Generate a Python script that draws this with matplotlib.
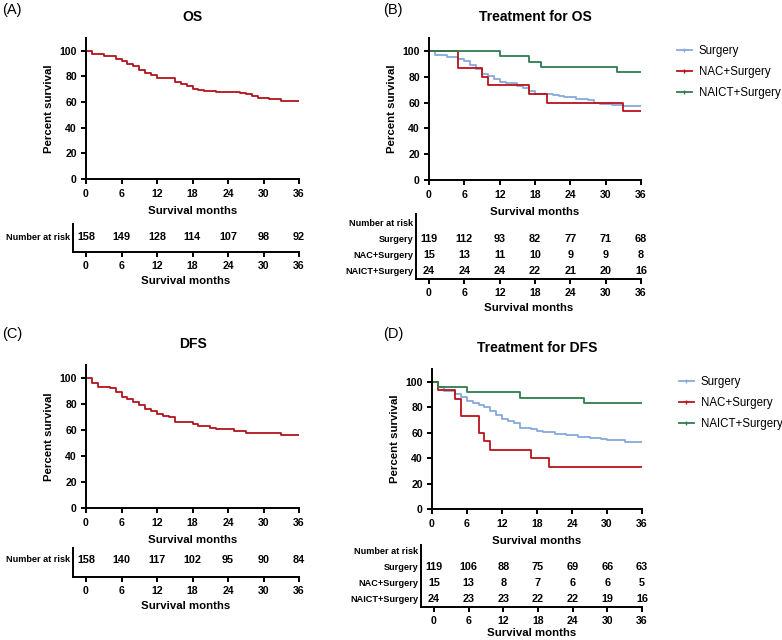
import matplotlib
matplotlib.use("Agg")
import matplotlib.pyplot as plt
from matplotlib.lines import Line2D

plt.rcParams['font.family'] = ['Liberation Sans', 'DejaVu Sans']

# ---- data ----
months = [0, 6, 12, 18, 24, 30, 36]

# (A) OS, all patients
os_t = [0, 1, 3, 5, 6, 7, 8, 9, 10, 11, 12, 15, 16, 17, 18, 19, 20, 21, 22, 24, 26, 27, 28, 29, 31, 33, 36]
os_s = [100, 97.5, 96, 94, 92, 90, 88, 85, 83, 81, 78.5, 75.5, 74.5, 72.5, 70.5, 69.5, 69, 68.5, 68, 67.5,
        67, 66, 64.5, 63, 62.5, 61, 61]
os_risk = [158, 149, 128, 114, 107, 98, 92]

# (B) OS by treatment
os_surg_t = [0, 1, 3, 5, 6, 7, 8, 9, 10, 11, 12, 13, 15, 16, 17, 18, 20, 21, 22, 23, 25, 27, 28, 29, 31, 33, 36]
os_surg_s = [100, 97, 95, 94, 92, 89, 86, 82.5, 80.5, 78, 76, 75, 72.5, 71.5, 69, 67, 66.5, 65.5, 65, 64,
             63, 62, 60, 58.5, 58, 57, 57]
os_nac_t = [0, 5, 9, 10, 17, 20, 33, 36]
os_nac_s = [100, 86.7, 80, 73.3, 66.7, 60, 53.3, 53.3]
os_naict_t = [0, 12, 17, 19, 32, 36]
os_naict_s = [100, 95.8, 91.7, 87.5, 83.3, 83.3]
os_risk_surg = [119, 112, 93, 82, 77, 71, 68]
os_risk_nac = [15, 13, 11, 10, 9, 9, 8]
os_risk_naict = [24, 24, 24, 22, 21, 20, 16]

# (C) DFS, all patients
dfs_t = [0, 1, 2, 4, 5, 6, 7, 8, 9, 10, 11, 12, 13, 14, 15, 18, 19, 21, 22, 25, 27, 29, 33, 36]
dfs_s = [100, 96, 93, 92.5, 89, 85.5, 83.5, 81.5, 79.5, 76.5, 74.5, 72.5, 71, 70, 66.5, 64.5, 63, 61.5,
         60.5, 59.5, 58, 57.5, 56, 56]
dfs_risk = [158, 140, 117, 102, 95, 90, 84]

# (D) DFS by treatment
dfs_surg_t = [0, 1, 2, 4, 5, 6, 7, 8, 9, 10, 11, 12, 13, 14, 15, 17, 18, 19, 21, 23, 25, 27, 29, 30, 33, 36]
dfs_surg_s = [100, 96, 92.5, 90.5, 88, 85, 83, 82, 80, 77, 74, 71, 69, 67.5, 64, 62.5, 61.5, 60.5, 59, 58,
              56.5, 55.5, 55, 54.5, 53, 53]
dfs_nac_t = [0, 1, 4, 5, 8, 9, 10, 17, 20, 36]
dfs_nac_s = [100, 93.3, 86.7, 73.3, 60, 53.3, 46.7, 40, 33.3, 33.3]
dfs_naict_t = [0, 1, 6, 15, 26, 36]
dfs_naict_s = [100, 95.8, 91.7, 87.5, 83.3, 83.3]
dfs_risk_surg = [119, 106, 88, 75, 69, 66, 63]
dfs_risk_nac = [15, 13, 8, 7, 6, 6, 5]
dfs_risk_naict = [24, 23, 23, 22, 22, 19, 16]

groups = ["Surgery", "NAC+Surgery", "NAICT+Surgery"]
c_all = "#b3141c"
c_surg = "#86a9dc"
c_nac = "#bb1119"
c_naict = "#2e7d4f"

W, H = 782, 640
fig = plt.figure(figsize=(W / 100, H / 100), dpi=100)


def rect(x0, x1, y_bottom, y_top):
    # pixel box -> figure fraction
    return [x0 / W, 1 - y_bottom / H, (x1 - x0) / W, (y_bottom - y_top) / H]


def style_axis(ax):
    for s in ["top", "right"]:
        ax.spines[s].set_visible(False)
    for s in ["left", "bottom"]:
        ax.spines[s].set_linewidth(1.4)
    ax.tick_params(width=1.4, length=3.5, pad=3, labelsize=7.6)
    for lab in ax.get_xticklabels() + ax.get_yticklabels():
        lab.set_fontweight("bold")


def main_panel(box, title):
    ax = fig.add_axes(rect(*box))
    ax.set_xlim(0, 36)
    ax.set_ylim(0, 110)
    ax.set_xticks(months)
    ax.set_yticks([0, 20, 40, 60, 80, 100])
    style_axis(ax)
    ax.tick_params(axis="x", pad=4)
    ax.set_xlabel("Survival months", fontsize=8.2, fontweight="bold", labelpad=5)
    ax.set_ylabel("Percent survival", fontsize=8.2, fontweight="bold", labelpad=4)
    ax.set_title(title, fontsize=10, fontweight="bold", pad=12)
    return ax


def risk_panel(box, rows, labels, header_y, lpad=3.5):
    ax = fig.add_axes(rect(*box))
    ax.patch.set_visible(False)
    x0 = -13 / ((box[1] - box[0] - 13) / 36)
    ax.set_xlim(x0, 36)
    top = box[2] - box[3]
    ax.set_ylim(0, top)
    ax.set_xticks(months)
    ax.set_yticks([])
    style_axis(ax)
    ax.set_xlabel("Survival months", fontsize=8.2, fontweight="bold", labelpad=lpad)
    for (ypos, counts), lab in zip(rows, labels):
        for m, n in zip(months, counts):
            ax.text(m, ypos, str(n), ha="center", va="center", fontsize=7.8, fontweight="bold")
        if lab:
            ax.text(-0.012, ypos, lab, transform=ax.get_yaxis_transform(), ha="right", va="center",
                    fontsize=6.6, fontweight="bold")
    if header_y is not None:
        ax.text(-0.012, header_y, "Number at risk", transform=ax.get_yaxis_transform(), ha="right",
                va="center", fontsize=6.6, fontweight="bold")
    return ax


def legend(ax, x, y):
    handles = [Line2D([], [], color=c, lw=1.3, marker="|", markersize=3)
               for c in [c_surg, c_nac, c_naict]]
    ax.legend(handles, groups, loc="upper left", bbox_to_anchor=(x / W, 1 - y / H),
              bbox_transform=fig.transFigure, frameon=False, fontsize=8.3, handlelength=1.3,
              handletextpad=0.6, labelspacing=0.8, borderpad=0)


# (A)
axA = main_panel((86, 299, 179, 38), "OS")
axA.step(os_t, os_s, where="post", color=c_all, lw=1.3)
rA = risk_panel((73, 299, 252, 224), [(15, os_risk)], [None], None)
rA.text(-0.012, 15, "Number at risk", transform=rA.get_yaxis_transform(), ha="right", va="center",
        fontsize=6.6, fontweight="bold")

# (B)
axB = main_panel((429, 641, 180, 38), "Treatment for OS")
axB.step(os_surg_t, os_surg_s, where="post", color=c_surg, lw=1.3)
axB.step(os_nac_t, os_nac_s, where="post", color=c_nac, lw=1.3)
axB.step(os_naict_t, os_naict_s, where="post", color=c_naict, lw=1.3)
legend(axB, 671, 39)
risk_panel((416, 641, 279, 214), [(40, os_risk_surg), (24, os_risk_nac), (8, os_risk_naict)], groups, 56)

# (C)
axC = main_panel((86, 299, 508, 365), "DFS")
axC.step(dfs_t, dfs_s, where="post", color=c_all, lw=1.3)
rC = risk_panel((73, 299, 577, 548), [(17, dfs_risk)], [None], None)
rC.text(-0.012, 17, "Number at risk", transform=rC.get_yaxis_transform(), ha="right", va="center",
        fontsize=6.6, fontweight="bold")

# (D)
axD = main_panel((432, 642, 509, 369), "Treatment for DFS")
axD.step(dfs_surg_t, dfs_surg_s, where="post", color=c_surg, lw=1.3)
axD.step(dfs_nac_t, dfs_nac_s, where="post", color=c_nac, lw=1.3)
axD.step(dfs_naict_t, dfs_naict_s, where="post", color=c_naict, lw=1.3)
legend(axD, 673, 370)
risk_panel((421, 642, 607, 545), [(40, dfs_risk_surg), (24, dfs_risk_nac), (8, dfs_risk_naict)], groups, 56,
           lpad=1.5)

# panel letters
for lab, x, y in [("(A)", 2, 10), ("(B)", 383, 10), ("(C)", 2, 334), ("(D)", 383, 334)]:
    fig.text(x / W, 1 - y / H, lab, fontsize=10.5, ha="left", va="center")

fig.savefig("out.png", dpi=100)
